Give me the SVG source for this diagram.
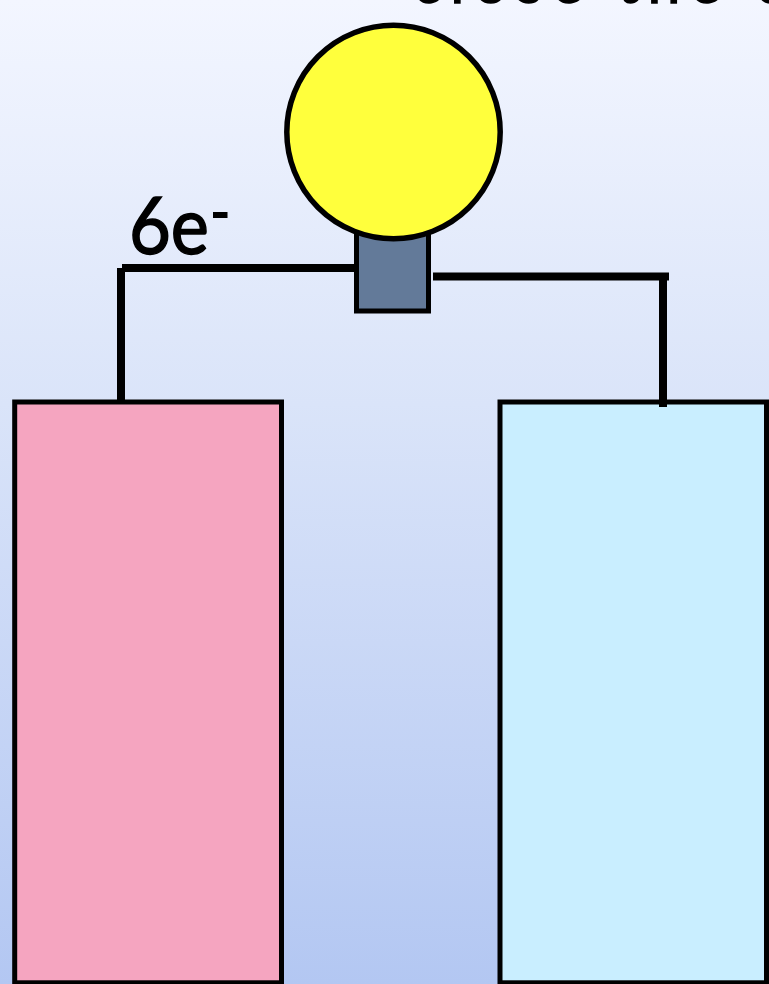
<svg xmlns="http://www.w3.org/2000/svg" width="769" height="984" viewBox="0 0 769 984">
  <defs>
    <linearGradient id="bg" x1="0" y1="0" x2="0" y2="1">
      <stop offset="0" stop-color="#f3f6ff"/>
      <stop offset="0.41" stop-color="#dae4f9"/>
      <stop offset="1" stop-color="#b3c7f2"/>
    </linearGradient>
  </defs>
  <style>
    .shape { stroke: #000; stroke-width: 5; }
    .wire { fill: none; stroke: #000; stroke-width: 8; stroke-linecap: butt; }
    .label { font-family: "Lato", "Liberation Sans", sans-serif; fill: #000; stroke: #000; stroke-width: 1.5; }
  </style>
  <rect id="background" width="769" height="984" fill="url(#bg)"/>
  <text class="label" x="413" y="3" font-size="58" textLength="370" lengthAdjust="spacing">close the c</text>
  <g id="connectors">
    <path class="wire" d="M122 268H356"/>
    <path class="wire" d="M121 268V402"/>
    <path class="wire" d="M433 276.500H669"/>
    <path class="wire" d="M663 276V407"/>
  </g>
  <g id="left-cell"><rect class="shape" x="14.700" y="402" width="266.800" height="580.800" fill="#f5a5c0"/></g>
  <g id="right-cell"><rect class="shape" x="500" y="402" width="266.500" height="580.800" fill="#c9eeff"/></g>
  <g id="connector-redraw"><path class="wire" d="M663 398V407"/></g>
  <g id="bulb">
    <rect class="shape" x="356.500" y="225" width="72" height="86" fill="#637a99"/>
    <circle cx="393.500" cy="132" r="106.700" fill="#ffff3c" stroke="#000" stroke-width="5.500"/>
  </g>
  <g id="label-6e">
    <text class="label" x="129" y="253.500" font-size="79" textLength="80" lengthAdjust="spacingAndGlyphs">6e</text>
    <rect x="213" y="212" width="14.500" height="6" fill="#000"/>
  </g>
</svg>
